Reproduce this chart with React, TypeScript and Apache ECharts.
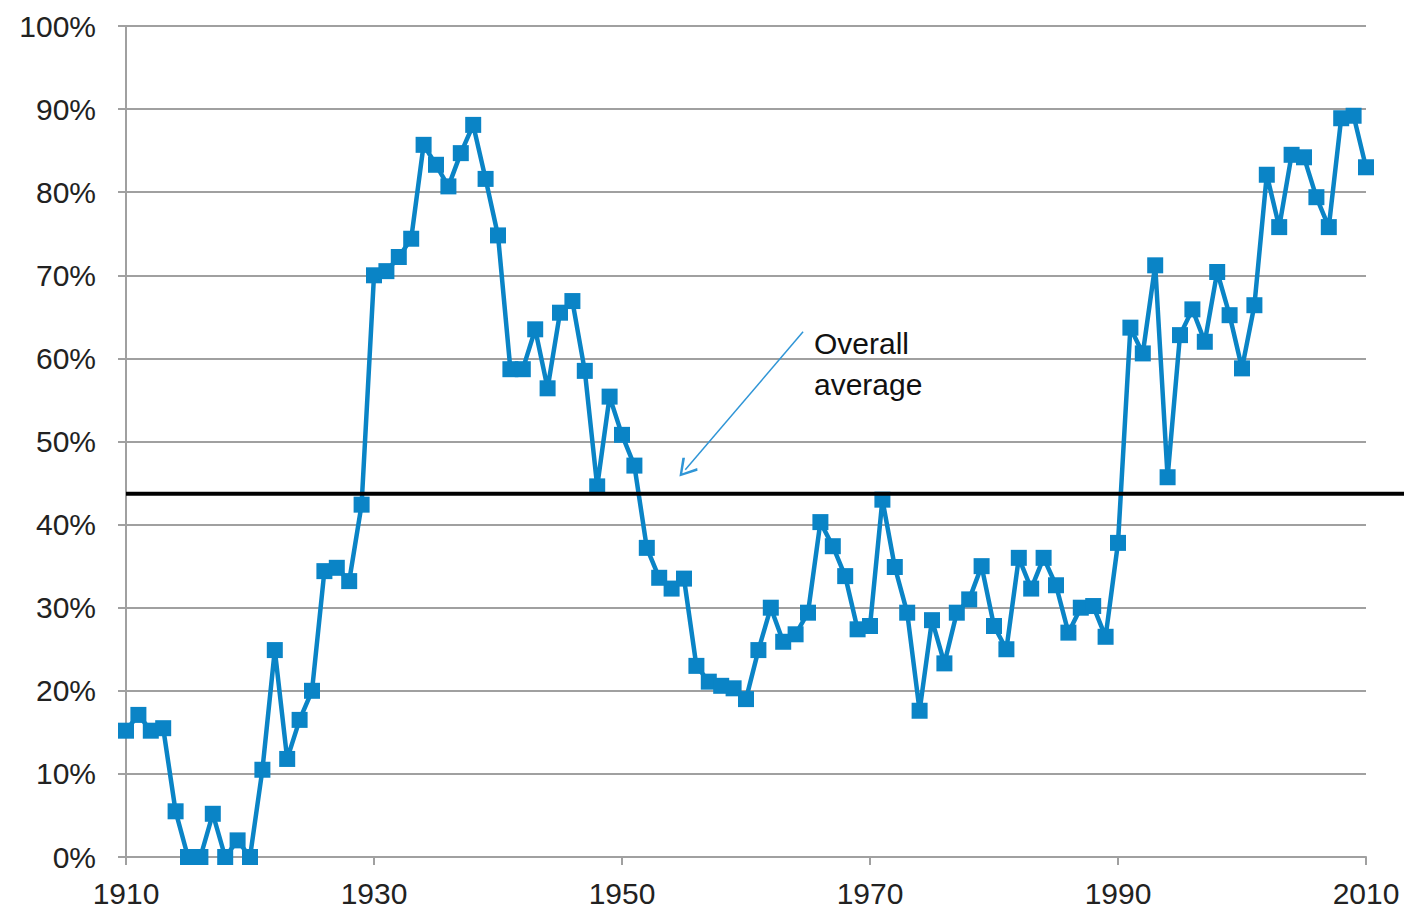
import React, { useEffect, useRef } from "react";
import * as echarts from "echarts";

const years: string[] = [];
for (let y = 1910; y <= 2010; y++) years.push(String(y));

const shares: number[] = [
  15.2, 17.1, 15.2, 15.5, 5.5, 0, 0, 5.2, 0, 2.0,
  0, 10.5, 24.9, 11.8, 16.5, 20, 34.4, 34.8, 33.2, 42.4,
  70, 70.5, 72.2, 74.4, 85.7, 83.3, 80.7, 84.7, 88.1, 81.6,
  74.8, 58.7, 58.7, 63.5, 56.4, 65.5, 66.9, 58.5, 44.6, 55.4,
  50.8, 47.1, 37.2, 33.6, 32.3, 33.5, 23, 21.1, 20.6, 20.3,
  19, 24.9, 30, 25.9, 26.8, 29.4, 40.3, 37.4, 33.8, 27.4,
  27.8, 43, 34.9, 29.4, 17.6, 28.5, 23.3, 29.4, 31, 35,
  27.8, 25, 36, 32.3, 36, 32.7, 27, 30, 30.2, 26.5,
  37.8, 63.7, 60.6, 71.2, 45.7, 62.8, 65.9, 62, 70.4, 65.2,
  58.8, 66.4, 82.1, 75.8, 84.5, 84.2, 79.4, 75.8, 88.9, 89.2,
  83,
];

const overallAverage = 43.7;
// average line spans from 1910 to just past the right edge of the plot
const averageSpan: number[] = [1910, 2013.06];
// annotation arrow: [year, percent] start and end
const arrowStart: number[] = [1964.6, 63.2];
const arrowEnd: number[] = [1955.1, 46.6];
const annotationText = "Overall\naverage";

const FONT = "'Liberation Sans', Arial, sans-serif";

export default function App() {
  const ref = useRef<HTMLDivElement>(null);
  useEffect(() => {
    if (!ref.current) return;
    const chart = echarts.init(ref.current, undefined, { renderer: "svg" });
    chart.setOption({
      animation: false,
      backgroundColor: "#ffffff",
      grid: [
        { left: 126, right: 38, top: 26, bottom: 56, containLabel: false },
        { left: 126, right: 0, top: 26, bottom: 56, containLabel: false },
      ],
      xAxis: [
        {
          type: "category",
          gridIndex: 0,
          data: years,
          boundaryGap: false,
          axisLine: { lineStyle: { color: "#a0a0a0", width: 2 } },
          axisTick: { interval: 19, length: 8, lineStyle: { color: "#a0a0a0", width: 2 } },
          axisLabel: {
            interval: 19,
            margin: 21,
            color: "#222",
            fontSize: 30,
            fontFamily: FONT,
          },
          splitLine: { show: false },
        },
        {
          type: "value",
          gridIndex: 1,
          min: averageSpan[0],
          max: averageSpan[1],
          show: false,
        },
      ],
      yAxis: [
        {
          type: "value",
          gridIndex: 0,
          min: 0,
          max: 100,
          interval: 10,
          axisLine: { show: true, lineStyle: { color: "#a0a0a0", width: 2 } },
          axisTick: { show: true, length: 8, lineStyle: { color: "#a0a0a0", width: 2 } },
          axisLabel: {
            formatter: "{value}%",
            margin: 30,
            color: "#222",
            fontSize: 30,
            fontFamily: FONT,
          },
          splitLine: { show: true, lineStyle: { color: "#a0a0a0", width: 2 } },
        },
        {
          type: "value",
          gridIndex: 1,
          min: 0,
          max: 100,
          show: false,
        },
      ],
      series: [
        {
          type: "line",
          xAxisIndex: 0,
          yAxisIndex: 0,
          data: shares,
          symbol: "rect",
          symbolSize: 16,
          showSymbol: true,
          showAllSymbol: true,
          clip: false,
          lineStyle: { color: "#0a84c6", width: 4.5 },
          itemStyle: { color: "#0a84c6" },
          z: 3,
        },
        {
          type: "line",
          xAxisIndex: 1,
          yAxisIndex: 1,
          data: [
            [averageSpan[0], overallAverage],
            [averageSpan[1], overallAverage],
          ],
          symbol: "none",
          lineStyle: { color: "#000000", width: 4 },
          clip: false,
          z: 5,
          markLine: {
            silent: true,
            symbol: ["none", "path://M5,0 L10,9 L9,10 L5,2.5 L1,10 L0,9 Z"],
            symbolSize: [20, 18],
            label: { show: false },
            lineStyle: { color: "#2f95d6", width: 1.5, type: "solid" },
            data: [
              [
                { coord: arrowStart },
                { coord: arrowEnd },
              ],
            ],
          },
        },
      ],
      graphic: [
        {
          type: "text",
          left: 814,
          top: 323,
          style: {
            text: annotationText,
            fill: "#111",
            font: `30px ${FONT}`,
            lineHeight: 41,
          },
        },
      ],
    });
    return () => chart.dispose();
  }, []);
  return (
    <div
      ref={ref}
      style={{ position: "fixed", left: 0, top: 0, width: 1404, height: 913 }}
    />
  );
}
